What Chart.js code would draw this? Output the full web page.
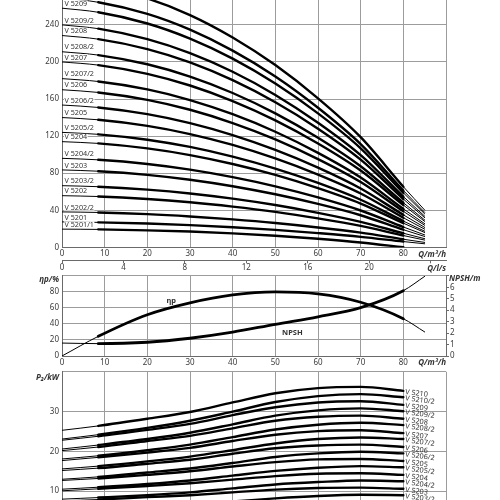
<!DOCTYPE html>
<html><head><meta charset="utf-8">
<script src="https://cdn.jsdelivr.net/npm/chart.js@4.4.1/dist/chart.umd.min.js"></script>
<style>
html,body{margin:0;padding:0;width:500px;height:500px;overflow:hidden;background:#fff;}
#wrap{position:relative;width:500px;height:500px;overflow:hidden;background:#fff;}
canvas{position:absolute;left:0;}
</style></head><body>
<div id="wrap">
<canvas id="cH" width="500" height="300" style="top:-20px"></canvas>
<canvas id="cE" width="500" height="102" style="top:268px"></canvas>
<canvas id="cP" width="500" height="176" style="top:364px"></canvas>
</div>
<script>
// ---------- data ----------
const pumpNames = ['V 5210','V 5210/2','V 5209','V 5209/2','V 5208','V 5208/2','V 5207','V 5207/2','V 5206','V 5206/2',
  'V 5205','V 5205/2','V 5204','V 5204/2','V 5203','V 5203/2','V 5202','V 5202/2','V 5201','V 5201/1'];

const qHead = [0, 8.5, 20, 30, 40, 50, 60, 70, 80, 85];
const headValues = [
  [287, 282.1, 268.6, 250.6, 226.4, 196.6, 160.7, 118.8, 65.4, 40.2],
  [269, 264.4, 251.8, 234.8, 212.2, 184.3, 150.6, 111.4, 61.3, 37.7],
  [258, 253.6, 241.5, 225.2, 203.6, 176.7, 144.5, 106.8, 58.8, 36.1],
  [240, 235.9, 224.6, 209.5, 189.4, 164.4, 134.4, 99.4, 54.7, 33.6],
  [228.5, 224.6, 213.9, 199.5, 180.3, 156.5, 128.0, 94.6, 52.1, 32.0],
  [211, 207.4, 197.5, 184.2, 166.5, 144.5, 118.2, 87.4, 48.1, 29.5],
  [200, 196.6, 187.2, 174.6, 157.8, 137.0, 112.0, 82.8, 45.6, 28.0],
  [182, 178.9, 170.4, 158.9, 143.6, 124.7, 101.9, 75.3, 41.5, 25.5],
  [170, 167.1, 159.1, 148.4, 134.1, 116.5, 95.2, 70.4, 38.8, 23.8],
  [153.5, 150.9, 143.7, 134.0, 121.1, 105.1, 86.0, 63.5, 35.0, 21.5],
  [140, 137.6, 131.0, 122.2, 110.5, 95.9, 78.4, 58.0, 31.9, 19.6],
  [124, 121.9, 116.1, 108.3, 97.8, 84.9, 69.4, 51.3, 28.3, 17.4],
  [114, 112.1, 106.7, 99.5, 89.9, 78.1, 63.8, 47.2, 26.0, 16.0],
  [96, 94.4, 89.9, 83.8, 75.7, 65.8, 53.8, 39.7, 21.9, 13.4],
  [83.5, 82.1, 78.2, 72.9, 65.9, 57.2, 46.8, 34.6, 19.0, 11.7],
  [66.5, 65.4, 62.2, 58.1, 52.5, 45.6, 37.2, 27.5, 15.2, 9.3],
  [55.7, 54.8, 52.1, 48.6, 43.9, 38.2, 31.2, 23.1, 12.7, 7.8],
  [38.2, 37.6, 35.8, 33.3, 30.1, 26.2, 21.4, 15.8, 8.7, 5.3],
  [27.4, 26.9, 25.6, 23.9, 21.6, 18.8, 15.3, 11.3, 6.2, 3.8],
  [19.6, 19.3, 18.3, 17.0, 15.0, 12.5, 9.2, 5.2, 0, null]
];

const qPower = [0, 8.5, 20, 30, 40, 50, 60, 70, 80];
const powerValues = [
  [25.3, 26.4, 28.2, 29.9, 32.3, 34.6, 35.9, 36.2, 35.2],
  [23.1, 24.2, 25.9, 27.7, 30.0, 32.4, 33.9, 34.4, 33.6],
  [22.8, 23.8, 25.4, 26.9, 29.1, 31.1, 32.3, 32.6, 31.7],
  [20.6, 21.6, 23.1, 24.7, 26.8, 29.0, 30.3, 30.8, 30.1],
  [20.2, 21.1, 22.6, 23.9, 25.8, 27.7, 28.7, 29.0, 28.2],
  [18.1, 18.9, 20.3, 21.7, 23.6, 25.5, 26.7, 27.2, 26.6],
  [17.7, 18.5, 19.7, 20.9, 22.6, 24.2, 25.1, 25.3, 24.6],
  [15.6, 16.3, 17.5, 18.7, 20.3, 22.0, 23.1, 23.5, 23.1],
  [15.2, 15.8, 16.9, 17.9, 19.4, 20.8, 21.5, 21.7, 21.1],
  [13.0, 13.6, 14.7, 15.7, 17.1, 18.6, 19.5, 19.9, 19.5],
  [12.7, 13.2, 14.1, 15.0, 16.2, 17.3, 18.0, 18.1, 17.6],
  [10.5, 11.0, 11.8, 12.7, 13.9, 15.1, 15.9, 16.3, 16.0],
  [10.1, 10.6, 11.3, 12.0, 12.9, 13.8, 14.4, 14.5, 14.1],
  [8.0, 8.4, 9.0, 9.7, 10.7, 11.7, 12.3, 12.7, 12.5],
  [7.6, 7.9, 8.5, 9.0, 9.7, 10.4, 10.8, 10.9, 10.6],
  [5.4, 5.7, 6.2, 6.7, 7.4, 8.2, 8.8, 9.1, 9.0],
  [5.1, 5.3, 5.6, 6.0, 6.5, 6.9, 7.2, 7.2, 7.0],
  [2.9, 3.1, 3.4, 3.7, 4.2, 4.7, 5.2, 5.4, 5.5],
  [2.5, 2.6, 2.8, 3.0, 3.2, 3.5, 3.6, 3.6, 3.5],
  [1.8, 1.9, 2.0, 2.2, 2.4, 2.6, 2.7, 2.8, 2.8]
];

const qEff = [0, 8.5, 20, 30, 40, 50, 60, 70, 80, 85];
const etaValues = [0, 24.5, 51.5, 66.3, 76.2, 79.9, 77.4, 67.0, 46.5, 30.0];
const npshValues = [1.13, 1.08, 1.2, 1.55, 2.08, 2.77, 3.42, 4.22, 5.7, 6.95];

const qTickLabels = [0, 10, 20, 30, 40, 50, 60, 70, 80];
const lsTickLabels = [0, 4, 8, 12, 16, 20];
const headTickLabels = [0, 40, 80, 120, 160, 200, 240];
const etaTickLabels = [0, 20, 40, 60, 80];
const npshTickLabels = [0, 1, 2, 3, 4, 5, 6];
const powerTickLabels = [10, 20, 30];

// ---------- styling ----------
Chart.defaults.font.family = '"Noto Sans", "DejaVu Sans", sans-serif';
Chart.defaults.font.size = 8;
Chart.defaults.color = '#3a3a3a';
const GRID = '#9c9c9c';
const AXIS = '#6a6a6a';
const TXT = '#333';
const LABEL_FONT = '7.2px "Noto Sans", sans-serif';
const TITLE_FONT = 'italic bold 8px "Noto Sans", sans-serif';

function mkSets(qs, vals, thick, axisId) {
  return vals.map(arr => ({
    data: arr.map((v, j) => ({x: qs[j], y: v})).filter(p => p.y !== null),
    borderColor: '#000',
    borderWidth: thick,
    borderCapStyle: 'round',
    borderJoinStyle: 'round',
    pointRadius: 0,
    fill: false,
    cubicInterpolationMode: 'monotone',
    yAxisID: axisId || 'y',
    segment: { borderWidth: c => (c.p0.parsed.x < 8 || c.p0.parsed.x >= 80) ? 1 : thick }
  }));
}
const showIf = list => v => list.includes(v) ? String(v) : '';
const baseOpts = {
  responsive: false, animation: false, devicePixelRatio: 1,
  plugins: { legend: {display: false}, tooltip: {enabled: false} },
  events: []
};
function xScale(extra) {
  return Object.assign({
    type: 'linear', position: 'bottom', min: 0, max: 90,
    ticks: { stepSize: 10, callback: showIf(qTickLabels), padding: 2, maxRotation: 0, autoSkip: false, includeBounds: false },
    grid: { color: GRID, lineWidth: 1, drawTicks: false },
    border: { display: true, color: AXIS, width: 1 },
    afterFit: s => { s.height = 13; }
  }, extra || {});
}

// ---------- head chart ----------
const headPlugin = {
  id: 'headText',
  afterDatasetsDraw(chart) {
    const {ctx, chartArea, scales} = chart;
    const x = scales.x, y = scales.y;
    ctx.save();
    ctx.font = LABEL_FONT;
    ctx.textAlign = 'left';
    ctx.textBaseline = 'bottom';
    pumpNames.forEach((n, i) => {
      const px = x.getPixelForValue(0) + 2.5;
      const py = y.getPixelForValue(headValues[i][0]) - 0.8;
      const w = ctx.measureText(n).width;
      ctx.fillStyle = '#fff';
      ctx.fillRect(px - 0.5, py - 7, w + 1, 6.5);
      ctx.fillStyle = TXT;
      ctx.fillText(n, px, py);
    });
    ctx.font = TITLE_FONT;
    ctx.textAlign = 'right';
    ctx.textBaseline = 'middle';
    ctx.fillText('Q/m³/h', chartArea.right, x.top + 7);
    ctx.fillText('Q/l/s', chartArea.right, scales.x2.top + 8.5);
    ctx.restore();
  }
};
new Chart(document.getElementById('cH'), {
  type: 'line',
  data: { datasets: mkSets(qHead, headValues, 2.4) },
  options: Object.assign({}, baseOpts, {
    layout: { autoPadding: false, padding: {left: 0, right: 54, top: 6.8, bottom: 5.7} },
    scales: {
      x: xScale(),
      x2: {
        type: 'linear', position: 'bottom', min: 0, max: 25, weight: 1,
        ticks: { stepSize: 4, callback: showIf(lsTickLabels), padding: 0, maxRotation: 0, autoSkip: false, includeBounds: false },
        grid: { drawOnChartArea: false, drawTicks: true, tickLength: 3, color: AXIS },
        border: { display: true, color: AXIS, width: 1 },
        afterFit: s => { s.height = 14; }
      },
      y: {
        type: 'linear', position: 'left', min: 0, max: 280,
        ticks: { stepSize: 40, callback: showIf(headTickLabels), padding: 3, autoSkip: false },
        grid: { color: GRID, lineWidth: 1, drawTicks: false },
        border: { display: true, color: AXIS, width: 1 },
        afterFit: s => { s.width = 62; }
      }
    }
  }),
  plugins: [headPlugin]
});

// ---------- efficiency / NPSH chart ----------
const effPlugin = {
  id: 'effText',
  afterDatasetsDraw(chart) {
    const {ctx, chartArea, scales} = chart;
    const x = scales.x, y = scales.y, y2 = scales.y2;
    ctx.save();
    ctx.fillStyle = TXT;
    ctx.font = TITLE_FONT;
    ctx.textBaseline = 'middle';
    ctx.textAlign = 'right';
    ctx.fillText('ηp/%', chartArea.left - 3, chartArea.top + 3.5);
    ctx.fillText('Q/m³/h', chartArea.right, x.top + 7);
    ctx.textAlign = 'left';
    ctx.fillText('NPSH/m', chartArea.right + 3, chartArea.top + 2.5);
    ctx.font = 'bold 7.5px "Noto Sans", sans-serif';
    ctx.textAlign = 'center';
    ctx.fillText('ηp', x.getPixelForValue(25.6), y.getPixelForValue(69));
    ctx.fillText('NPSH', x.getPixelForValue(54), y2.getPixelForValue(2.0));
    ctx.restore();
  }
};
const effSets = mkSets(qEff, [etaValues], 2.8, 'y').concat(mkSets(qEff, [npshValues], 2.8, 'y2'));
new Chart(document.getElementById('cE'), {
  type: 'line',
  data: { datasets: effSets },
  options: Object.assign({}, baseOpts, {
    layout: { autoPadding: false, padding: {left: 0, right: 0, top: 7, bottom: 0} },
    scales: {
      x: xScale({ afterFit: s => { s.height = 14; } }),
      y: {
        type: 'linear', position: 'left', min: 0, max: 100,
        ticks: { stepSize: 20, callback: showIf(etaTickLabels), padding: 3, autoSkip: false },
        grid: { color: GRID, lineWidth: 1, drawTicks: false },
        border: { display: true, color: AXIS, width: 1 },
        afterFit: s => { s.width = 62; }
      },
      y2: {
        type: 'linear', position: 'right', min: 0, max: 7,
        ticks: { stepSize: 1, callback: showIf(npshTickLabels), padding: 1, autoSkip: false },
        grid: { drawOnChartArea: false, drawTicks: true, tickLength: 3, color: AXIS },
        border: { display: true, color: AXIS, width: 1 },
        afterFit: s => { s.width = 54; }
      }
    }
  }),
  plugins: [effPlugin]
});

// ---------- power chart ----------
const powerPlugin = {
  id: 'powerText',
  afterDatasetsDraw(chart) {
    const {ctx, chartArea, scales} = chart;
    const x = scales.x, y = scales.y;
    ctx.save();
    ctx.fillStyle = TXT;
    ctx.font = TITLE_FONT;
    ctx.textAlign = 'right';
    ctx.textBaseline = 'middle';
    ctx.fillText('P₂/kW', chartArea.left - 3, chartArea.top + 6);
    ctx.font = LABEL_FONT;
    ctx.textAlign = 'left';
    pumpNames.forEach((n, i) => {
      const arr = powerValues[i];
      const px = x.getPixelForValue(qPower[qPower.length - 1]) + 2;
      const py = y.getPixelForValue(arr[arr.length - 1]) + 1;
      ctx.save();
      ctx.translate(px, py);
      ctx.rotate(0.13);
      ctx.fillText(n, 0, 0);
      ctx.restore();
    });
    ctx.restore();
  }
};
new Chart(document.getElementById('cP'), {
  type: 'line',
  data: { datasets: mkSets(qPower, powerValues, 2.4) },
  options: Object.assign({}, baseOpts, {
    layout: { autoPadding: false, padding: {left: 0, right: 54, top: 5.3, bottom: 9} },
    scales: {
      x: xScale({ ticks: { display: false, stepSize: 10, includeBounds: false }, afterFit: s => { s.height = 0; } }),
      y: {
        type: 'linear', position: 'left', min: 0, max: 40,
        ticks: { stepSize: 10, callback: showIf(powerTickLabels), padding: 3, autoSkip: false },
        grid: { color: GRID, lineWidth: 1, drawTicks: false },
        border: { display: true, color: AXIS, width: 1 },
        afterFit: s => { s.width = 62; }
      }
    }
  }),
  plugins: [powerPlugin]
});
</script>
</body></html>
